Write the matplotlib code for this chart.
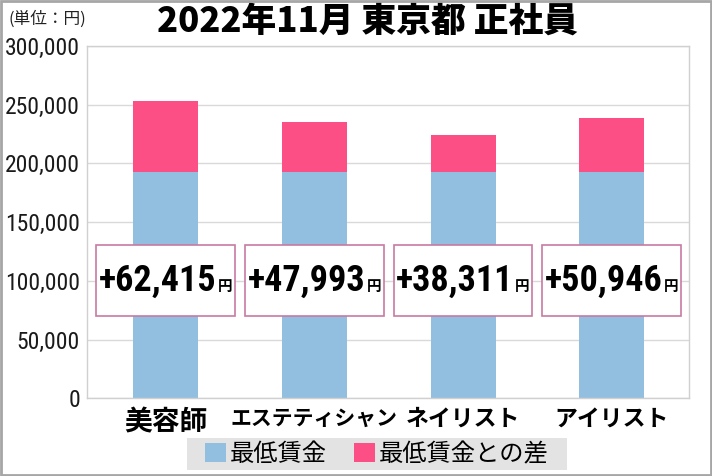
import matplotlib
matplotlib.use("Agg")
import matplotlib.pyplot as plt
from matplotlib.patches import Rectangle, Patch
from matplotlib.offsetbox import TextArea, HPacker, AnnotationBbox
from matplotlib.ticker import FuncFormatter
import numpy as np

# ---- data ----
categories = ["美容師", "エステティシャン", "ネイリスト", "アイリスト"]
min_wage = [192500, 192500, 192500, 192500]
diff_vals = [60500, 42500, 32000, 46000]
diff_labels = ["+62,415", "+47,993", "+38,311", "+50,946"]
yticks = [0, 50000, 100000, 150000, 200000, 250000, 300000]
series_names = ["最低賃金", "最低賃金との差"]
title = "2022年11月 東京都 正社員"
unit_text = "(単位：円)"

CJK = ["Noto Sans CJK JP", "DejaVu Sans"]
NARROW = ["Roboto Condensed", "DejaVu Sans"]
plt.rcParams['font.family'] = CJK

BLUE = "#92bfdf"
PINK = "#fc4f86"
BOXEDGE = "#c87aa2"
GRID = "#d9d9d9"

fig = plt.figure(figsize=(7.12, 4.76), dpi=100)
ax = fig.add_axes([87/712, 1-398.3/476, (689-87)/712, (398.3-46)/476])

x = np.arange(len(categories))
w = 0.437
ax.bar(x, min_wage, width=w, color=BLUE, zorder=2)
ax.bar(x, diff_vals, width=w, bottom=min_wage, color=PINK, zorder=2)

ax.set_xlim(-0.53, 3.52)
ax.set_ylim(0, 300000)
ax.set_yticks(yticks)
ax.yaxis.set_major_formatter(FuncFormatter(lambda v, p: f"{int(v):,}"))
ax.yaxis.grid(True, color=GRID, lw=1, zorder=0)
ax.set_axisbelow(True)
for s in ax.spines.values():
    s.set_color("#d0d0d0")
    s.set_linewidth(1)
ax.tick_params(axis='y', length=0, pad=5, labelcolor="#1a1a1a")
for lab in ax.get_yticklabels():
    lab.set_family(NARROW)
    lab.set_fontsize(17)

ax.set_xticks(x)
ax.set_xticklabels(categories)
ax.tick_params(axis='x', length=0, pad=7)
xsizes = [20, 15, 16.5, 16.5]
for lab, fs in zip(ax.get_xticklabels(), xsizes):
    lab.set_family(CJK)
    lab.set_fontsize(fs)
    lab.set_fontweight('bold')

# difference label boxes
box_w = 0.933
box_lo, box_hi = 70000, 130500
for xi, txt in zip(x, diff_labels):
    ax.add_patch(Rectangle((xi - box_w/2, box_lo), box_w, box_hi - box_lo,
                           facecolor="white", edgecolor=BOXEDGE, lw=1.2, zorder=3))
    t1 = TextArea(txt, textprops=dict(family=NARROW, fontsize=26, fontweight='bold', color='black'))
    t2 = TextArea("円", textprops=dict(family=CJK, fontsize=10.5, fontweight='bold', color='black'))
    pk = HPacker(children=[t1, t2], align="baseline", pad=0, sep=1)
    ab = AnnotationBbox(pk, (xi, (box_lo + box_hi)/2), frameon=False, zorder=4,
                        box_alignment=(0.5, 0.5), pad=0)
    ax.add_artist(ab)

# title and unit
fig.text(0.516, 1-22/476, title, ha='center', va='center', fontsize=25,
         fontweight='heavy', family=CJK, color='black')
fig.text(8/712, 1-19/476, unit_text, ha='left', va='center', fontsize=12,
         family=CJK, color='#222222')

# legend with gray background
fig.patches.append(Rectangle((187/712, 1-470/476), (567-187)/712, (470-437.7)/476,
                             transform=fig.transFigure, facecolor="#e3e3e3",
                             edgecolor='none', zorder=0))
handles = [Patch(facecolor=BLUE, edgecolor='none'), Patch(facecolor=PINK, edgecolor='none')]
leg = fig.legend(handles, series_names, loc='center', bbox_to_anchor=(377/712, 1-454/476),
                 ncol=2, frameon=False, fontsize=17.5, handlelength=0.86,
                 handleheight=0.82, handletextpad=0.18, columnspacing=1.1,
                 borderpad=0.1)

# outer frame
fig.patches.append(Rectangle((0.0015, 0.002), 0.997, 0.996, transform=fig.transFigure,
                             facecolor='none', edgecolor='#a6a6a6', lw=2, zorder=10))

fig.savefig("out.png", dpi=100)
